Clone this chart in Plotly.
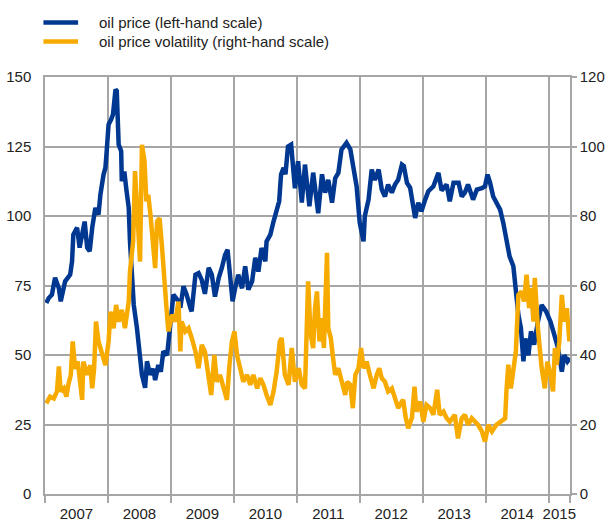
import plotly.graph_objects as go

# Oil price (left-hand scale), time in decimal years
oil_time = [2007.39, 2007.43, 2007.48, 2007.53, 2007.59, 2007.62, 2007.69, 2007.77, 2007.80, 2007.82,
            2007.88, 2007.92, 2007.97, 2008.00, 2008.04, 2008.08, 2008.12, 2008.17, 2008.22, 2008.25,
            2008.30, 2008.33, 2008.35, 2008.38, 2008.42, 2008.45, 2008.49, 2008.51, 2008.54, 2008.58,
            2008.59, 2008.63, 2008.66, 2008.70, 2008.72, 2008.75, 2008.78, 2008.83, 2008.87, 2008.91,
            2008.96, 2008.99, 2009.04, 2009.09, 2009.12, 2009.17, 2009.21, 2009.25, 2009.31, 2009.36,
            2009.41, 2009.49, 2009.52, 2009.57, 2009.62, 2009.68, 2009.70, 2009.76, 2009.81, 2009.86,
            2009.91, 2009.97, 2010.02, 2010.07, 2010.13, 2010.18, 2010.23, 2010.27, 2010.31, 2010.35,
            2010.39, 2010.44, 2010.50, 2010.55, 2010.60, 2010.66, 2010.71, 2010.76, 2010.81, 2010.87,
            2010.89, 2010.95, 2011.00, 2011.05, 2011.09, 2011.12, 2011.16, 2011.19, 2011.23, 2011.28,
            2011.34, 2011.39, 2011.45, 2011.50, 2011.57, 2011.63, 2011.71, 2011.77, 2011.82, 2011.87,
            2011.93, 2011.98, 2012.03, 2012.08, 2012.16, 2012.22, 2012.26, 2012.32, 2012.37, 2012.43,
            2012.45, 2012.51, 2012.56, 2012.61, 2012.67, 2012.72, 2012.77, 2012.82, 2012.88, 2012.93,
            2012.98, 2013.04, 2013.07, 2013.12, 2013.17, 2013.22, 2013.25, 2013.30, 2013.35, 2013.41,
            2013.46, 2013.54, 2013.62, 2013.67, 2013.75, 2013.80, 2013.86, 2013.94, 2013.99, 2014.04,
            2014.09, 2014.17, 2014.23, 2014.31, 2014.36, 2014.40, 2014.44, 2014.49, 2014.54, 2014.60,
            2014.65, 2014.70, 2014.75, 2014.81, 2014.83, 2014.86, 2014.89, 2014.93, 2014.97, 2015.00,
            2015.05, 2015.09, 2015.14, 2015.20, 2015.26, 2015.33, 2015.40, 2015.46, 2015.52, 2015.58,
            2015.62, 2015.67, 2015.71]
oil_price = [68.7, 70.5, 71.7, 77.8, 74.0, 69.3, 76.5, 78.9, 83.7, 93.3,
             95.8, 88.6, 94.5, 98.0, 88.6, 87.3, 95.8, 102.9, 100.5, 107.7,
             114.9, 117.4, 123.3, 132.9, 134.7, 136.5, 145.5, 145.0, 125.7, 123.3,
             112.5, 116.0, 110.0, 103.0, 90.9, 78.9, 68.0, 59.8, 49.0, 42.9,
             38.2, 47.7, 42.9, 45.0, 41.0, 46.4, 44.0, 51.3, 50.0, 59.8,
             71.7, 69.3, 67.0, 74.7, 71.7, 66.9, 65.7, 78.9, 79.5, 77.0,
             72.0, 81.4, 78.9, 71.0, 77.8, 81.4, 86.0, 87.9, 78.9, 69.3,
             74.0, 78.9, 74.0, 81.9, 73.5, 76.5, 85.0, 80.0, 88.5, 83.7,
             90.9, 93.3, 98.0, 103.0, 105.3, 114.9, 117.3, 115.0, 125.0, 125.7,
             110.0, 119.7, 104.8, 118.5, 103.5, 115.6, 101.0, 115.0, 108.4, 113.0,
             104.8, 113.6, 115.5, 123.9, 126.3, 124.0, 117.9, 110.7, 97.5, 90.9,
             99.9, 105.9, 116.7, 113.0, 116.7, 109.5, 107.0, 111.3, 108.4, 111.3,
             113.0, 118.5, 118.0, 111.9, 110.2, 103.5, 99.3, 104.8, 101.7, 105.9,
             108.9, 110.7, 115.5, 109.2, 111.3, 105.3, 112.0, 112.0, 107.0, 108.4,
             111.3, 105.9, 109.5, 110.0, 110.7, 114.9, 112.0, 107.0, 104.8, 102.3,
             97.5, 91.5, 85.5, 81.9, 77.0, 71.7, 64.5, 59.7, 47.7, 56.0,
             49.9, 58.5, 53.7, 62.0, 68.0, 65.7, 62.0, 57.3, 52.5, 44.0,
             50.0, 47.7, 48.9]

# Oil price volatility (right-hand scale)
vol_time = [2007.39, 2007.45, 2007.51, 2007.56, 2007.59, 2007.62, 2007.67, 2007.71, 2007.74, 2007.78,
            2007.81, 2007.85, 2007.89, 2007.93, 2007.96, 2007.98, 2008.04, 2008.09, 2008.12, 2008.15,
            2008.18, 2008.22, 2008.27, 2008.33, 2008.38, 2008.41, 2008.46, 2008.50, 2008.54, 2008.59,
            2008.64, 2008.70, 2008.72, 2008.77, 2008.80, 2008.84, 2008.88, 2008.91, 2008.95, 2008.98,
            2009.01, 2009.05, 2009.09, 2009.12, 2009.15, 2009.19, 2009.23, 2009.26, 2009.30, 2009.33,
            2009.39, 2009.44, 2009.49, 2009.52, 2009.54, 2009.60, 2009.65, 2009.70, 2009.76, 2009.81,
            2009.86, 2009.91, 2009.97, 2010.01, 2010.06, 2010.10, 2010.15, 2010.20, 2010.26, 2010.30,
            2010.34, 2010.38, 2010.42, 2010.47, 2010.52, 2010.58, 2010.63, 2010.68, 2010.74, 2010.79,
            2010.84, 2010.89, 2010.95, 2011.00, 2011.05, 2011.10, 2011.13, 2011.18, 2011.24, 2011.29,
            2011.34, 2011.40, 2011.45, 2011.50, 2011.55, 2011.59, 2011.63, 2011.66, 2011.69, 2011.73,
            2011.77, 2011.80, 2011.85, 2011.87, 2011.91, 2011.94, 2011.98, 2012.03, 2012.08, 2012.14,
            2012.17, 2012.22, 2012.26, 2012.30, 2012.35, 2012.39, 2012.43, 2012.48, 2012.53, 2012.59,
            2012.64, 2012.68, 2012.72, 2012.77, 2012.82, 2012.88, 2012.93, 2012.98, 2013.04, 2013.06,
            2013.10, 2013.14, 2013.20, 2013.24, 2013.27, 2013.30, 2013.33, 2013.38, 2013.43, 2013.49,
            2013.54, 2013.60, 2013.64, 2013.70, 2013.75, 2013.80, 2013.88, 2013.93, 2013.99, 2014.04,
            2014.09, 2014.15, 2014.25, 2014.31, 2014.36, 2014.41, 2014.47, 2014.54, 2014.62, 2014.68,
            2014.70, 2014.73, 2014.77, 2014.81, 2014.85, 2014.89, 2014.94, 2014.98, 2015.02, 2015.06,
            2015.09, 2015.13, 2015.15, 2015.20, 2015.24, 2015.26, 2015.31, 2015.35, 2015.40, 2015.44,
            2015.47, 2015.50, 2015.54, 2015.58, 2015.62, 2015.66, 2015.70]
vol_value = [26.1, 28.0, 27.5, 29.5, 36.7, 29.5, 30.4, 28.0, 31.4, 34.3,
             43.9, 36.0, 38.1, 32.3, 27.1, 38.1, 34.3, 37.1, 30.4, 36.0,
             49.6, 43.9, 41.0, 37.1, 43.9, 52.5, 47.7, 54.4, 49.6, 53.0,
             47.7, 55.4, 64.0, 72.7, 92.9, 80.4, 66.9, 100.5, 96.0, 84.2,
             86.1, 79.4, 72.7, 65.0, 78.4, 79.4, 70.8, 61.2, 53.5, 46.8,
             51.6, 49.6, 55.4, 41.0, 49.6, 46.8, 47.7, 44.9, 41.0, 36.2,
             42.9, 41.0, 34.3, 28.5, 40.0, 32.3, 34.3, 30.4, 27.1, 37.1,
             43.9, 46.8, 40.0, 36.2, 32.3, 34.3, 31.4, 34.3, 30.4, 33.3,
             31.4, 28.5, 25.6, 29.5, 35.2, 43.9, 44.9, 34.3, 31.4, 42.0,
             32.3, 36.2, 31.4, 30.4, 61.2, 45.8, 42.0, 53.5, 58.3, 43.9,
             50.6, 42.0, 69.4, 47.7, 44.9, 40.0, 34.3, 36.2, 32.3, 28.5,
             32.3, 31.4, 24.7, 34.3, 36.2, 42.0, 36.2, 38.1, 34.3, 30.4,
             34.3, 36.2, 33.3, 32.3, 29.5, 30.4, 27.6, 24.7, 26.6, 27.1,
             22.0, 18.9, 22.0, 30.9, 23.7, 25.2, 26.6, 20.8, 25.6, 24.7,
             22.8, 30.0, 22.8, 23.7, 21.8, 20.8, 22.8, 16.0, 21.8, 22.8,
             19.9, 21.8, 19.9, 18.0, 15.1, 19.9, 18.0, 19.9, 20.8, 21.8,
             29.5, 37.2, 30.4, 35.2, 41.0, 57.3, 58.3, 55.4, 63.1, 53.5,
             59.3, 49.6, 62.2, 47.7, 40.0, 36.2, 30.4, 38.1, 34.3, 29.5,
             42.0, 37.2, 43.9, 57.3, 49.6, 53.5, 43.9]

series_names = ["oil price (left-hand scale)", "oil price volatility (right-hand scale)"]
year_labels = ["2007", "2008", "2009", "2010", "2011", "2012", "2013", "2014", "2015"]
label_pos = [2007.87, 2008.87, 2009.87, 2010.87, 2011.87, 2012.87, 2013.87, 2014.87, 2015.54]
grid_pos = [2007.37, 2008.37, 2009.37, 2010.37, 2011.37, 2012.37, 2013.37, 2014.37, 2015.37, 2015.71]

BLUE = "#003891"
ORANGE = "#F7AB00"
GRID = "#A6A6A6"
TEXT = "#222222"
FONT = "Liberation Sans, Arial, sans-serif"
colors = [BLUE, ORANGE]

fig = go.Figure()
fig.add_trace(go.Scatter(x=oil_time, y=oil_price, mode="lines", name=series_names[0],
                         line=dict(color=BLUE, width=4.5), yaxis="y"))
fig.add_trace(go.Scatter(x=vol_time, y=vol_value, mode="lines", name=series_names[1],
                         line=dict(color=ORANGE, width=4.5), yaxis="y2"))

# legend drawn as key lines + labels above the plot area (paper coordinates)
legend_y = [1.1309, 1.0852]
for name, col, ly in zip(series_names, colors, legend_y):
    fig.add_shape(type="line", xref="paper", yref="paper", x0=-0.003, x1=0.063,
                  y0=ly, y1=ly, line=dict(color=col, width=4.5))
    fig.add_annotation(xref="paper", yref="paper", x=0.0996, y=ly, text=name,
                       showarrow=False, xanchor="left", yanchor="middle",
                       font=dict(size=15, color=TEXT, family=FONT))

fig.update_layout(
    width=609, height=527,
    margin=dict(l=45, r=39, t=77, b=33, autoexpand=False),
    paper_bgcolor="white", plot_bgcolor="white",
    font=dict(family=FONT, size=15, color=TEXT),
    showlegend=False,
    xaxis=dict(range=[2007.37, 2015.71], tickmode="array", tickvals=label_pos,
               ticktext=year_labels, showgrid=False, ticks="outside", ticklen=5,
               tickcolor="rgba(0,0,0,0)", showline=True, linecolor=GRID, linewidth=1.5,
               mirror=True, zeroline=False, automargin=False,
               minor=dict(tickmode="array", tickvals=grid_pos, showgrid=True,
                          gridcolor=GRID, gridwidth=1.5, ticks="outside",
                          ticklen=7, tickcolor=GRID, tickwidth=1.5)),
    yaxis=dict(range=[0, 150], tickmode="array", tickvals=[0, 25, 50, 75, 100, 125, 150],
               showgrid=True, gridcolor=GRID, gridwidth=1.5, showline=True,
               linecolor=GRID, linewidth=1.5, zeroline=False, ticks="", ticklabelstandoff=9,
               automargin=False),
    yaxis2=dict(range=[0, 120], tickmode="array", tickvals=[0, 20, 40, 60, 80, 100, 120],
                overlaying="y", side="right", showgrid=False, showline=True,
                linecolor=GRID, linewidth=1.5, zeroline=False, ticks="outside",
                ticklen=5, tickcolor=GRID, tickwidth=1.5, automargin=False),
)

fig.write_html("out.html", config={"displayModeBar": False},
               post_script="document.body.style.margin='0';document.body.style.overflow='hidden';")
